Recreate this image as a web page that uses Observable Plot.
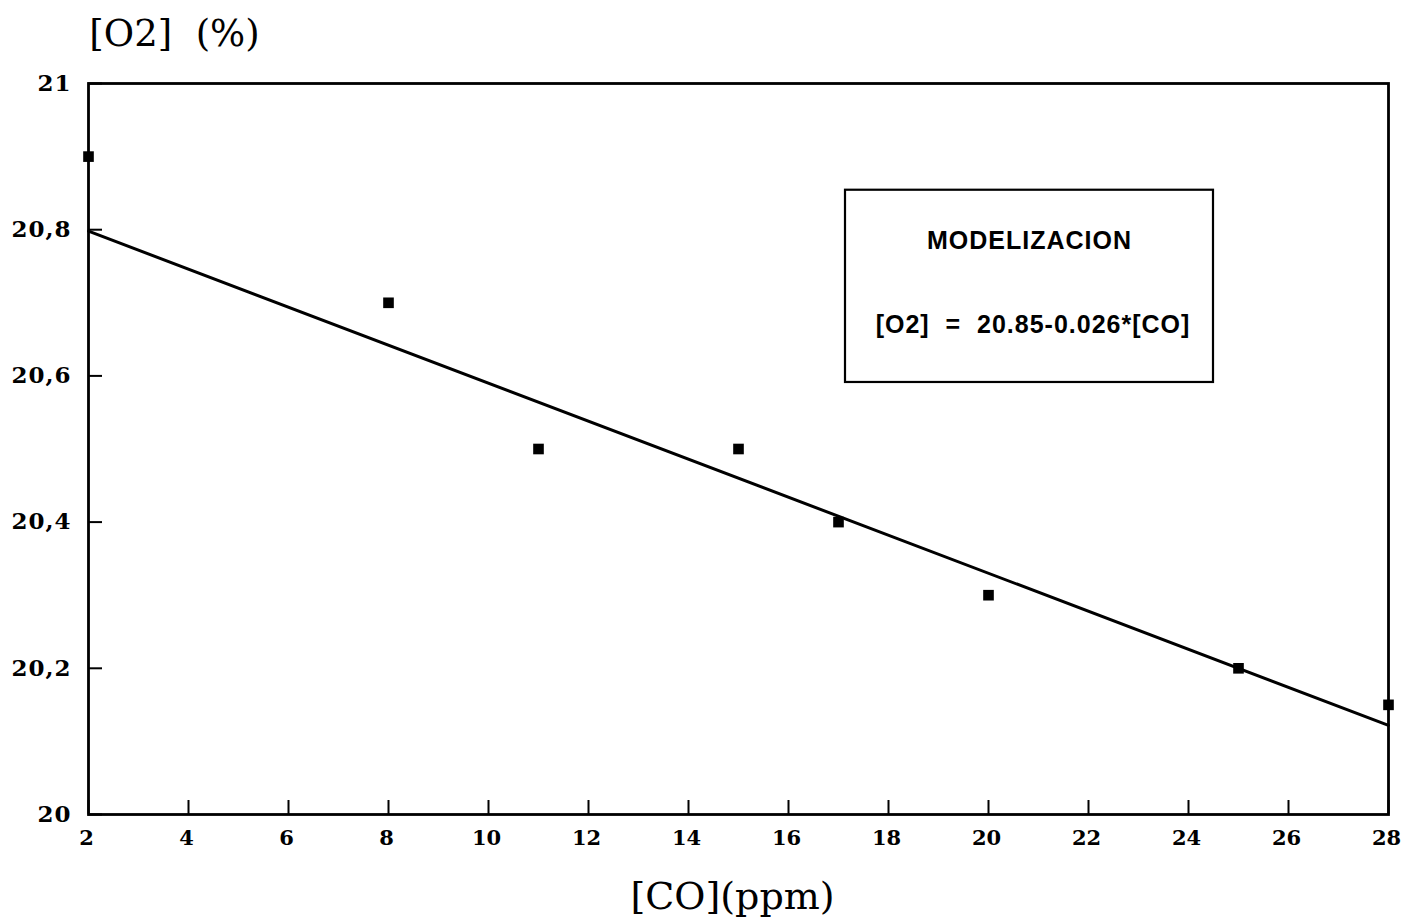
<!DOCTYPE html>
<html>
<head>
<meta charset="utf-8">
<script src="https://cdn.jsdelivr.net/npm/d3@7"></script>
<script src="https://cdn.jsdelivr.net/npm/@observablehq/plot@0.6"></script>
<style>
  html, body { margin: 0; padding: 0; background: #fff; }
  #chart svg { display: block; }
  #chart g[aria-label="y-axis tick label"] text { letter-spacing: 1px; }
</style>
</head>
<body>
<div id="chart"></div>
<script>
// Measured CO concentration (ppm) and O2 concentration (%)
const co = [2, 8, 11, 15, 17, 20, 25, 28];
const o2 = [20.9, 20.7, 20.5, 20.5, 20.4, 20.3, 20.2, 20.15];

// Linear model stated in the annotation: [O2] = 20.85 - 0.026*[CO]
const intercept = 20.85;
const slope = 0.026;
const fitRange = [2, 28];

// Axis ticks
const xTicks = [2, 4, 6, 8, 10, 12, 14, 16, 18, 20, 22, 24, 26, 28];
const yTicks = [20, 20.2, 20.4, 20.6, 20.8, 21];

// Annotation box (data coordinates) and its text
const boxX = [17.14, 24.5];
const boxY = [20.591, 20.854];
const boxTitle = "MODELIZACION";
const boxEquation = `[O2]  =  ${intercept}-${slope}*[CO]`;

const points = co.map((x, i) => ({x, y: o2[i]}));
const fit = fitRange.map(x => ({x, y: intercept - slope * x}));

const serif = "'DejaVu Serif', serif";
const sans = "'Liberation Sans', Arial, sans-serif";

const chart = Plot.plot({
  width: 1402,
  height: 923,
  marginLeft: 88,
  marginRight: 14,
  marginTop: 83,
  marginBottom: 109,
  style: {background: "#fff", color: "#000", fontFamily: serif, fontSize: "22px"},
  x: {domain: [2, 28], ticks: xTicks},
  y: {domain: [20, 21], ticks: yTicks},
  marks: [
    Plot.frame({stroke: "#000", strokeWidth: 2.8}),
    // inward tick marks on the bottom axis (labels drawn separately)
    Plot.axisX({ticks: xTicks, tickSize: -14, tickFormat: () => "", label: null, strokeWidth: 2}),
    // bottom tick labels, nudged slightly left so "28" fits
    Plot.axisX({
      ticks: xTicks, tickSize: 0, tickPadding: 16, label: null, dx: -2,
      fontSize: 21, fontWeight: "bold", fontFamily: serif,
      tickFormat: d => String(d)
    }),
    Plot.axisY({
      ticks: yTicks, tickSize: -14, tickPadding: 31, label: null,
      strokeWidth: 2, fontSize: 23, fontWeight: "bold", fontFamily: serif,
      tickFormat: d => String(+d.toFixed(1)).replace(".", ",")
    }),
    Plot.line(fit, {x: "x", y: "y", stroke: "#000", strokeWidth: 3}),
    Plot.dot(points, {x: "x", y: "y", symbol: "square", r: 6, fill: "#000", stroke: "none"}),
    Plot.rect([{}], {x1: boxX[0], x2: boxX[1], y1: boxY[0], y2: boxY[1], fill: "#fff", stroke: "#000", strokeWidth: 2.2}),
    Plot.text([boxTitle], {x: (boxX[0] + boxX[1]) / 2, y: 20.784, text: d => d,
      fontFamily: sans, fontWeight: "bold", fontSize: 25, fill: "#000"}),
    Plot.text([boxEquation], {x: (boxX[0] + boxX[1]) / 2 + 0.07, y: 20.67, text: d => d,
      fontFamily: sans, fontWeight: "bold", fontSize: 25, fill: "#000"}),
    // axis titles
    Plot.text(["[O2]  (%)"], {frameAnchor: "top-left", text: d => d, dx: 86, dy: -49,
      textAnchor: "middle", lineAnchor: "middle", fontFamily: serif, fontSize: 37, fill: "#000"}),
    Plot.text(["[CO](ppm)"], {frameAnchor: "bottom", text: d => d, dx: -6, dy: 82,
      textAnchor: "middle", lineAnchor: "middle", fontFamily: serif, fontSize: 38, fill: "#000"})
  ]
});

// letter spacing for the annotation box text
d3.select(chart).selectAll("text").filter(function() {
  return this.textContent === boxTitle || this.textContent === boxEquation;
}).style("letter-spacing", "1px");

document.getElementById("chart").append(chart);
</script>
</body>
</html>
